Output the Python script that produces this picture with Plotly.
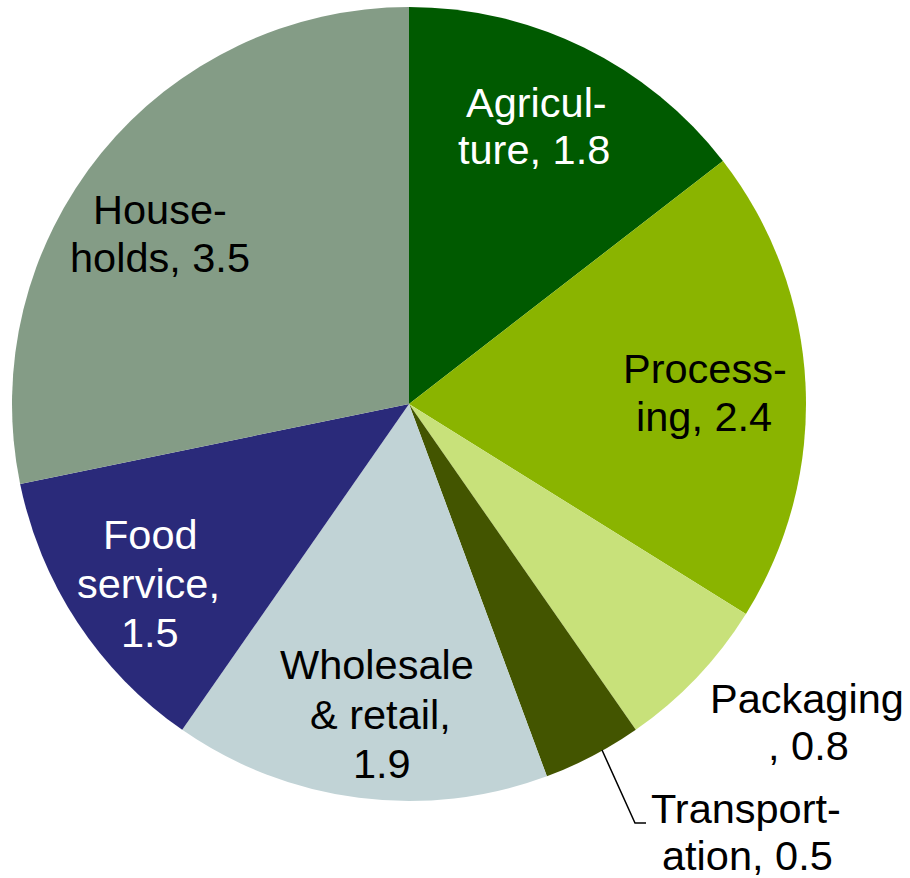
import plotly.graph_objects as go

# Data
categories = ["Agriculture", "Processing", "Packaging", "Transportation",
              "Wholesale & retail", "Food service", "Households"]
values = [1.8, 2.4, 0.8, 0.5, 1.9, 1.5, 3.5]
label_lines = [
    ["Agricul-", "ture, 1.8"],
    ["Process-", "ing, 2.4"],
    ["Packaging", ", 0.8"],
    ["Transport-", "ation, 0.5"],
    ["Wholesale", "& retail,", "1.9"],
    ["Food", "service,", "1.5"],
    ["House-", "holds, 3.5"],
]
colors = ["#005A00", "#8AB400", "#C8E17A", "#435500", "#C1D3D6", "#2A2A7A", "#849C86"]
text_colors = ["white", "black", "black", "black", "black", "white", "black"]

W, H = 910, 878
FS = 41.5

# label placement (pixel centre x, baseline y of each line)
label_pos = [
    [(536, 117), (534, 164)],
    [(705, 383), (704, 431)],
    [(807, 713), (808, 760)],
    [(746, 823), (747, 870)],
    [(377, 679), (380, 729), (382, 778)],
    [(150, 549), (148, 598), (150, 647)],
    [(160, 224), (160, 272)],
]

fig = go.Figure(go.Pie(
    labels=categories,
    values=values,
    sort=False,
    direction="clockwise",
    rotation=0,
    marker=dict(colors=colors, line=dict(width=0)),
    textinfo="none",
    hoverinfo="label+value",
    showlegend=False,
    domain=dict(x=[12 / W, 806 / W], y=[1 - 801 / H, 1 - 7 / H]),
))

annotations = []
for lines, poss, tc in zip(label_lines, label_pos, text_colors):
    for txt, (px, py) in zip(lines, poss):
        annotations.append(dict(
            text=txt, x=px / W, y=1 - (py - 0.3465 * FS) / H,
            xref="paper", yref="paper", xanchor="center", yanchor="middle",
            showarrow=False,
            font=dict(family="Liberation Sans, Arial, sans-serif", size=FS, color=tc),
        ))

# leader line for Transportation
pts = [(602, 750), (635, 823), (646, 823)]
path = "M " + " L ".join(f"{x / W},{1 - y / H}" for x, y in pts)
fig.add_shape(type="path", path=path, xref="paper", yref="paper",
              line=dict(color="black", width=1.5))

fig.update_layout(
    width=W, height=H,
    margin=dict(l=0, r=0, t=0, b=0),
    paper_bgcolor="white",
    plot_bgcolor="white",
    annotations=annotations,
)

fig.write_html("out.html", config={"displayModeBar": False},
               post_script="document.body.style.margin='0';")
